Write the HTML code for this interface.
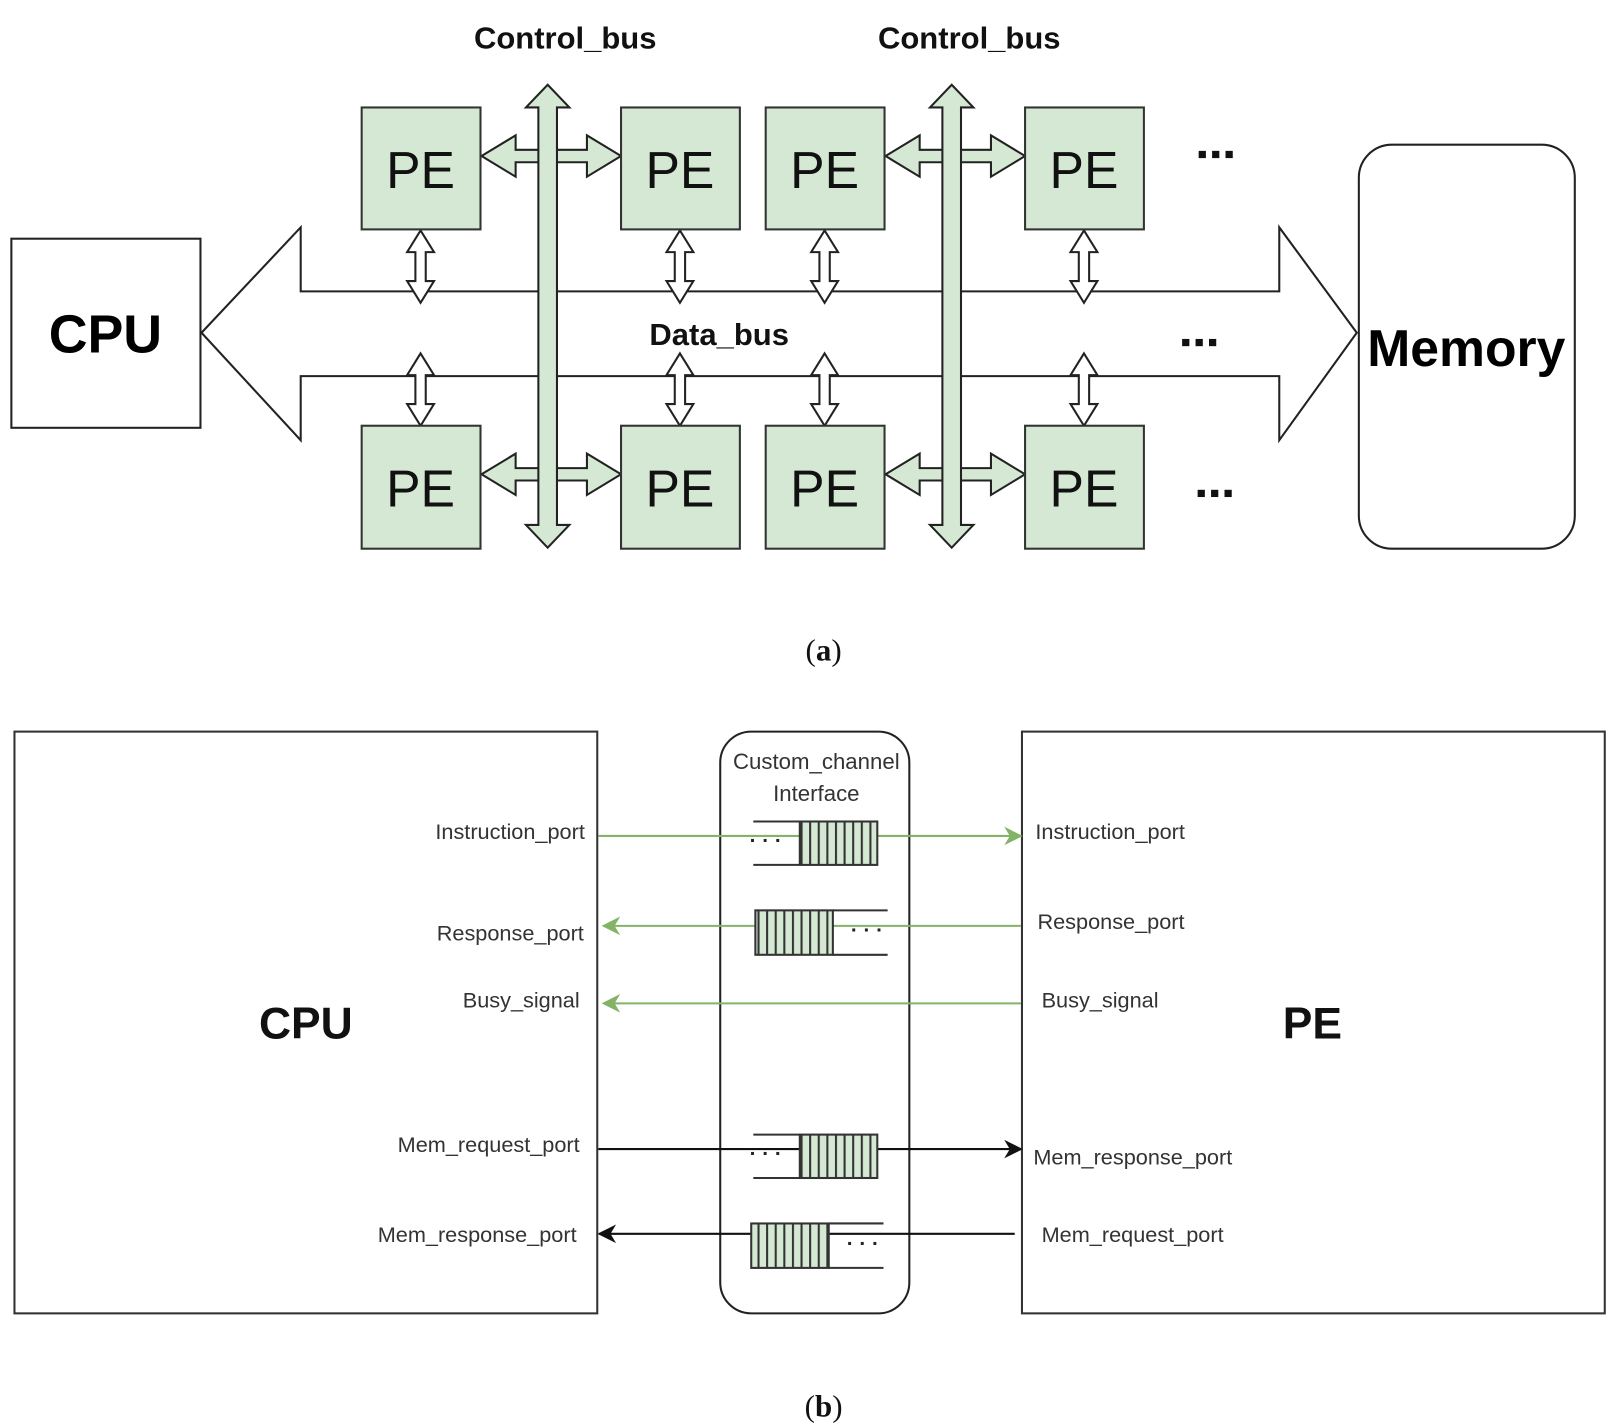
<!DOCTYPE html>
<html><head><meta charset="utf-8"><style>
html,body{margin:0;padding:0;background:#fff;width:1612px;height:1426px;overflow:hidden}
svg{display:block}
</style></head><body>
<svg width="1612" height="1426" viewBox="0 0 1560 1380" preserveAspectRatio="none" xmlns="http://www.w3.org/2000/svg" font-family="Liberation Sans, Arial, sans-serif">
<defs>
<marker id="ag" viewBox="0 0 10 10" refX="9" refY="5" markerWidth="18" markerHeight="18" markerUnits="userSpaceOnUse" orient="auto"><path d="M0,0 L10,5 L0,10 L3,5 Z" fill="#82b366"/></marker>
<marker id="ab" viewBox="0 0 10 10" refX="9" refY="5" markerWidth="18" markerHeight="18" markerUnits="userSpaceOnUse" orient="auto"><path d="M0,0 L10,5 L0,10 L3,5 Z" fill="#111"/></marker>
<pattern id="st" width="8.33" height="10" patternUnits="userSpaceOnUse"><rect width="8.33" height="10" fill="#d5e8d4"/><rect width="2" height="10" fill="#333"/></pattern>
</defs>

<!-- (a) -->
<text x="547" y="47" font-size="30" font-weight="bold" text-anchor="middle" fill="#111">Control_bus</text>
<text x="938" y="47" font-size="30" font-weight="bold" text-anchor="middle" fill="#111">Control_bus</text>

<rect x="11" y="231" width="183" height="183" fill="#fff" stroke="#222" stroke-width="2"/>
<text x="102" y="341" font-size="52" font-weight="bold" text-anchor="middle" fill="#000">CPU</text>

<rect x="1315" y="140" width="209" height="391" rx="32" fill="#fff" stroke="#222" stroke-width="2"/>
<text x="1419" y="354" font-size="50" font-weight="bold" text-anchor="middle" fill="#000">Memory</text>

<!-- data bus -->
<polygon points="195,322 291,220 291,282 1238,282 1238,220 1313,322 1238,426 1238,364 291,364 291,426" fill="#fff" stroke="#222" stroke-width="2" stroke-linejoin="miter"/>
<text x="696" y="334" font-size="30" font-weight="bold" text-anchor="middle" fill="#111">Data_bus</text>

<!-- small data arrows -->
<g fill="#fff" stroke="#222" stroke-width="2">
<path d="M407,223 L420,244 L412,244 L412,272 L420,272 L407,293 L394,272 L402,272 L402,244 L394,244 Z"/>
<path d="M658,223 L671,244 L663,244 L663,272 L671,272 L658,293 L645,272 L653,272 L653,244 L645,244 Z"/>
<path d="M798,223 L811,244 L803,244 L803,272 L811,272 L798,293 L785,272 L793,272 L793,244 L785,244 Z"/>
<path d="M1049,223 L1062,244 L1054,244 L1054,272 L1062,272 L1049,293 L1036,272 L1044,272 L1044,244 L1036,244 Z"/>
<path d="M407,342 L420,363 L412,363 L412,391 L420,391 L407,412 L394,391 L402,391 L402,363 L394,363 Z"/>
<path d="M658,342 L671,363 L663,363 L663,391 L671,391 L658,412 L645,391 L653,391 L653,363 L645,363 Z"/>
<path d="M798,342 L811,363 L803,363 L803,391 L811,391 L798,412 L785,391 L793,391 L793,363 L785,363 Z"/>
<path d="M1049,342 L1062,363 L1054,363 L1054,391 L1062,391 L1049,412 L1036,391 L1044,391 L1044,363 L1036,363 Z"/>
</g>

<!-- horizontal control arrows -->
<g fill="#d5e8d4" stroke="#222" stroke-width="2">
<polygon points="466,151 499,131 499,145 568,145 568,131 601,151 568,171 568,157 499,157 499,171"/>
<polygon points="857,151 890,131 890,145 959,145 959,131 992,151 959,171 959,157 890,157 890,171"/>
<polygon points="466,459 499,439 499,453 568,453 568,439 601,459 568,479 568,465 499,465 499,479"/>
<polygon points="857,459 890,439 890,453 959,453 959,439 992,459 959,479 959,465 890,465 890,479"/>
<polygon points="530,82 551,104 539,104 539,508 551,508 530,530 509,508 521,508 521,104 509,104"/>
<polygon points="921,82 942,104 930,104 930,508 942,508 921,530 900,508 912,508 912,104 900,104"/>
</g>

<!-- PEs -->
<g fill="#d5e8d4" stroke="#333" stroke-width="2">
<rect x="350" y="104" width="115" height="118"/><rect x="601" y="104" width="115" height="118"/>
<rect x="741" y="104" width="115" height="118"/><rect x="992" y="104" width="115" height="118"/>
<rect x="350" y="412" width="115" height="119"/><rect x="601" y="412" width="115" height="119"/>
<rect x="741" y="412" width="115" height="119"/><rect x="992" y="412" width="115" height="119"/>
</g>
<g font-size="50" text-anchor="middle" fill="#111">
<text x="407" y="182">PE</text><text x="658" y="182">PE</text><text x="798" y="182">PE</text><text x="1049" y="182">PE</text>
<text x="407" y="490">PE</text><text x="658" y="490">PE</text><text x="798" y="490">PE</text><text x="1049" y="490">PE</text>
</g>
<g fill="#111">
<rect x="1160" y="146" width="7" height="7"/><rect x="1173" y="146" width="7" height="7"/><rect x="1186" y="146" width="7" height="7"/>
<rect x="1144" y="328" width="7" height="7"/><rect x="1157" y="328" width="7" height="7"/><rect x="1170" y="328" width="7" height="7"/>
<rect x="1159" y="474" width="7" height="7"/><rect x="1172" y="474" width="7" height="7"/><rect x="1185" y="474" width="7" height="7"/>
</g>
<text x="797" y="639" font-family="Liberation Serif, serif" font-size="30" text-anchor="middle" fill="#111">(<tspan font-weight="bold">a</tspan>)</text>

<!-- (b) -->
<rect x="14" y="708" width="564" height="563" fill="#fff" stroke="#333" stroke-width="2"/>
<rect x="989" y="708" width="564" height="563" fill="#fff" stroke="#333" stroke-width="2"/>
<rect x="697" y="708" width="183" height="563" rx="30" fill="#fff" stroke="#222" stroke-width="2"/>
<text x="790" y="744" font-size="21.5" text-anchor="middle" fill="#333">Custom_channel</text>
<text x="790" y="775" font-size="21.5" text-anchor="middle" fill="#333">Interface</text>

<text x="296" y="1005" font-size="43" font-weight="bold" text-anchor="middle" fill="#111">CPU</text>
<text x="1270" y="1005" font-size="43" font-weight="bold" text-anchor="middle" fill="#111">PE</text>

<g font-size="21" fill="#333">
<text x="566" y="812" text-anchor="end">Instruction_port</text>
<text x="565" y="910" text-anchor="end">Response_port</text>
<text x="561" y="975" text-anchor="end">Busy_signal</text>
<text x="561" y="1115" text-anchor="end">Mem_request_port</text>
<text x="558" y="1202" text-anchor="end">Mem_response_port</text>
<text x="1002" y="812">Instruction_port</text>
<text x="1004" y="899">Response_port</text>
<text x="1008" y="975">Busy_signal</text>
<text x="1000" y="1127">Mem_response_port</text>
<text x="1008" y="1202">Mem_request_port</text>
</g>

<!-- lines -->
<line x1="579" y1="809" x2="988" y2="809" stroke="#82b366" stroke-width="2" marker-end="url(#ag)"/>
<line x1="988" y1="896" x2="584" y2="896" stroke="#82b366" stroke-width="2" marker-end="url(#ag)"/>
<line x1="988" y1="971" x2="584" y2="971" stroke="#82b366" stroke-width="2" marker-end="url(#ag)"/>
<line x1="579" y1="1112" x2="988" y2="1112" stroke="#111" stroke-width="2" marker-end="url(#ab)"/>
<line x1="982" y1="1194" x2="580" y2="1194" stroke="#111" stroke-width="2" marker-end="url(#ab)"/>

<!-- queues -->
<g stroke="#333" stroke-width="2">
<rect x="774" y="795" width="75" height="42" fill="url(#st)"/>
<line x1="729" y1="795" x2="774" y2="795"/><line x1="729" y1="837" x2="774" y2="837"/>
<rect x="731" y="881" width="75" height="43" fill="url(#st)"/>
<line x1="806" y1="881" x2="859" y2="881"/><line x1="806" y1="924" x2="859" y2="924"/>
<rect x="774" y="1098" width="75" height="42" fill="url(#st)"/>
<line x1="729" y1="1098" x2="774" y2="1098"/><line x1="729" y1="1140" x2="774" y2="1140"/>
<rect x="727" y="1184" width="75" height="43" fill="url(#st)"/>
<line x1="802" y1="1184" x2="855" y2="1184"/><line x1="802" y1="1227" x2="855" y2="1227"/>
</g>
<g font-size="20" font-weight="bold" fill="#222" text-anchor="middle">
<text x="741" y="820">· · ·</text><text x="839" y="907">· · ·</text>
<text x="741" y="1123">· · ·</text><text x="835" y="1210">· · ·</text>
</g>

<text x="797" y="1371" font-family="Liberation Serif, serif" font-size="30" text-anchor="middle" fill="#111">(<tspan font-weight="bold">b</tspan>)</text>
</svg>
</body></html>
